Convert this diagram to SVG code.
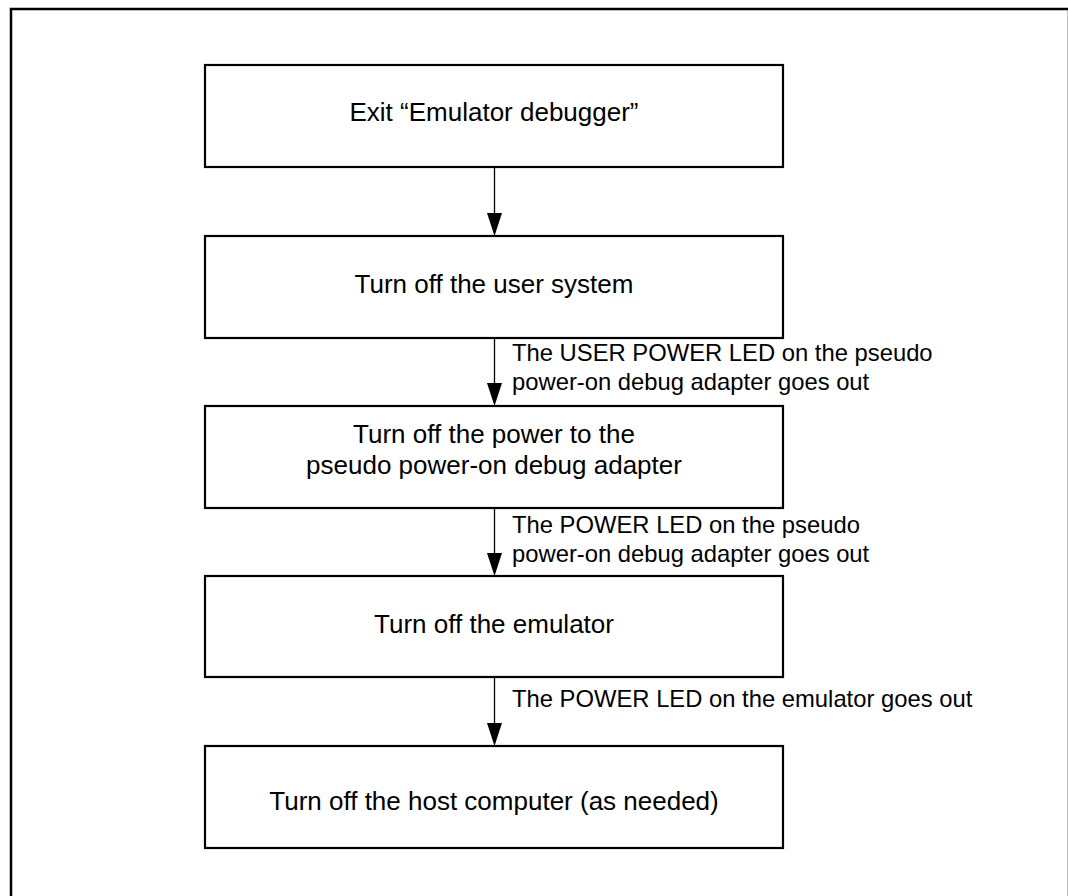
<svg xmlns="http://www.w3.org/2000/svg" width="1068" height="896" viewBox="0 0 1068 896">
  <style>
    .box { fill: #ffffff; stroke: #000000; stroke-width: 2.2; }
    .btxt { font-family: "Liberation Sans", Arial, sans-serif; font-size: 26px; fill: #000000; text-anchor: middle; }
    .ltxt { font-family: "Liberation Sans", Arial, sans-serif; font-size: 23.8px; fill: #000000; }
    .conn { stroke: #000000; stroke-width: 1.3; fill: none; }
    .head { fill: #000000; stroke: none; }
  </style>
  <rect x="0" y="0" width="1068" height="896" fill="#ffffff"/>
  <rect x="11" y="9" width="1058" height="900" fill="none" stroke="#000000" stroke-width="2.5"/>

  <g id="connectors">
    <line class="conn" x1="494.5" y1="166" x2="494.5" y2="216"/>
    <polygon class="head" points="487,213 502,213 494.5,236"/>
    <line class="conn" x1="494.5" y1="338" x2="494.5" y2="386"/>
    <polygon class="head" points="487,383 502,383 494.5,406"/>
    <line class="conn" x1="494.5" y1="508" x2="494.5" y2="556"/>
    <polygon class="head" points="487,553 502,553 494.5,576"/>
    <line class="conn" x1="494.5" y1="677" x2="494.5" y2="726"/>
    <polygon class="head" points="487,723 502,723 494.5,746"/>
    <text class="ltxt" x="512" y="361">The USER POWER LED on the pseudo</text>
    <text class="ltxt" x="512" y="390">power-on debug adapter goes out</text>
    <text class="ltxt" x="512" y="533">The POWER LED on the pseudo</text>
    <text class="ltxt" x="512" y="562">power-on debug adapter goes out</text>
    <text class="ltxt" x="512" y="707">The POWER LED on the emulator goes out</text>
  </g>

  <g id="node1">
    <rect class="box" x="205" y="65" width="578" height="102"/>
    <text class="btxt" x="494" y="121">Exit “Emulator debugger”</text>
  </g>
  <g id="node2">
    <rect class="box" x="205" y="236" width="578" height="102"/>
    <text class="btxt" x="494" y="293">Turn off the user system</text>
  </g>
  <g id="node3">
    <rect class="box" x="205" y="406" width="578" height="102"/>
    <text class="btxt" x="494" y="443">Turn off the power to the</text>
    <text class="btxt" x="494" y="474">pseudo power-on debug adapter</text>
  </g>
  <g id="node4">
    <rect class="box" x="205" y="576" width="578" height="101"/>
    <text class="btxt" x="494" y="633">Turn off the emulator</text>
  </g>
  <g id="node5">
    <rect class="box" x="205" y="746" width="578" height="102"/>
    <text class="btxt" x="494" y="810">Turn off the host computer (as needed)</text>
  </g>
</svg>
